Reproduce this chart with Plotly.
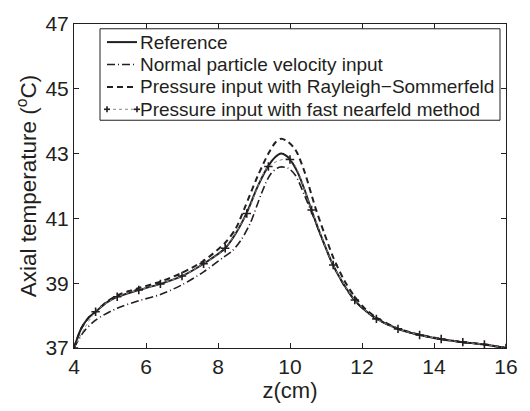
import plotly.graph_objects as go

# ---- data ----
ref_z = [4.0, 4.2, 4.4, 4.6, 4.9, 5.2, 5.5, 5.8, 6.4, 7.0, 7.6, 8.2, 8.5, 8.8, 9.1, 9.4, 9.6, 9.75,
         9.9, 10.0, 10.2, 10.4, 10.6, 10.9, 11.2, 11.5, 11.8, 12.1, 12.4, 13.0, 13.6, 14.2, 14.8, 15.4, 16.0]
ref_T = [37.0, 37.6, 37.93, 38.12, 38.4, 38.58, 38.69, 38.79, 38.98, 39.22, 39.6, 40.08, 40.55, 41.18,
         41.98, 42.62, 42.9, 43.0, 42.93, 42.82, 42.45, 41.9, 41.25, 40.35, 39.55, 38.95, 38.47, 38.15,
         37.91, 37.59, 37.40, 37.27, 37.18, 37.11, 37.0]

npv_z = [4.0, 4.27, 4.6, 5.2, 5.8, 6.4, 7.0, 7.6, 8.15, 8.4, 8.65, 8.9, 9.2, 9.45, 9.7, 9.95, 10.15,
         10.4, 10.65, 10.95, 11.2, 11.5, 11.8, 12.1, 12.4, 13.0, 13.6, 14.2, 14.8, 15.4, 16.0]
npv_T = [37.0, 37.5, 37.86, 38.23, 38.46, 38.65, 38.95, 39.35, 39.8, 40.0, 40.35, 40.86, 41.75, 42.35,
         42.58, 42.55, 42.33, 41.72, 41.05, 40.2, 39.55, 38.93, 38.46, 38.14, 37.9, 37.59, 37.40, 37.27,
         37.18, 37.11, 37.0]

rs_z = [4.0, 4.2, 4.4, 4.6, 4.9, 5.2, 5.5, 5.8, 6.4, 7.0, 7.6, 8.2, 8.5, 8.75, 9.1, 9.4, 9.6, 9.75,
        9.9, 10.15, 10.4, 10.7, 10.95, 11.2, 11.5, 11.8, 12.1, 12.4, 13.0, 13.6, 14.2, 14.8, 15.4, 16.0]
rs_T = [37.0, 37.6, 37.93, 38.12, 38.42, 38.62, 38.75, 38.85, 39.05, 39.32, 39.69, 40.25, 40.7, 41.35,
        42.3, 43.0, 43.35, 43.46, 43.4, 43.12, 42.45, 41.35, 40.55, 39.8, 39.1, 38.58, 38.2, 37.94,
        37.6, 37.41, 37.28, 37.18, 37.11, 37.0]

fn_z = [4.0, 4.6, 5.2, 5.8, 6.4, 7.0, 7.6, 8.2, 8.8, 9.4, 10.0, 10.6, 11.2, 11.8, 12.4, 13.0, 13.6,
        14.2, 14.8, 15.4, 16.0]
fn_T = [37.0, 38.12, 38.58, 38.79, 38.98, 39.22, 39.6, 40.08, 41.15, 42.6, 42.82, 41.26, 39.56, 38.48,
        37.9, 37.59, 37.40, 37.28, 37.18, 37.11, 37.0]

series_names = ["Reference", "Normal particle velocity input",
                "Pressure input with Rayleigh\u2212Sommerfeld",
                "Pressure input with fast nearfeld method"]

x_ticks = [4, 6, 8, 10, 12, 14, 16]
y_ticks = [37, 39, 41, 43, 45, 47]

INK = "#231f20"
FONT = "Liberation Sans, Arial, Helvetica, sans-serif"

styles = [
    dict(color=INK, width=2, dash="solid"),
    dict(color=INK, width=1.6, dash="8px,3px,1px,3px"),
    dict(color=INK, width=2, dash="6px,4px"),
    dict(color="#888888", width=1, dash="dot"),
]

fig = go.Figure()
for z, T, name, st in zip([ref_z, npv_z, rs_z], [ref_T, npv_T, rs_T], series_names[:3], styles[:3]):
    fig.add_trace(go.Scatter(x=z, y=T, mode="lines", name=name, showlegend=False,
                             line=dict(shape="spline", smoothing=0.8, **st)))
fig.add_trace(go.Scatter(x=fn_z, y=fn_T, mode="lines+markers", name=series_names[3], showlegend=False,
                         line=dict(shape="spline", smoothing=0.8, **styles[3]),
                         marker=dict(symbol="cross-thin", size=6, line=dict(color=INK, width=1.6))))

axis_common = dict(showline=True, linecolor=INK, linewidth=1, mirror="ticks", ticks="inside",
                   ticklen=5, tickcolor=INK, showgrid=False, zeroline=False,
                   tickfont=dict(family=FONT, size=21, color=INK))

fig.update_xaxes(range=[4, 16], tickvals=x_ticks, ticktext=[str(v) for v in x_ticks],
                 title=dict(text="z(cm)", font=dict(family=FONT, size=22, color=INK), standoff=5),
                 **axis_common)
fig.update_yaxes(range=[37, 47], tickvals=y_ticks, ticktext=[str(v) for v in y_ticks],
                 title=dict(text="Axial temperature (<sup>o</sup>C)", font=dict(family=FONT, size=22.5, color=INK),
                            standoff=2),
                 **axis_common)

# ---- legend box drawn in paper coordinates (plot area: 432 x 340 px) ----
PW, PH, L, B = 432.0, 340.0, 74.0, 358.0
def px(xp):
    return (xp - L) / PW
def py(yp):
    return (B - yp) / PH

shapes = [dict(type="rect", xref="paper", yref="paper", x0=px(100), x1=px(500), y0=py(119), y1=py(23),
               line=dict(color=INK, width=1), fillcolor="white", layer="above")]
annotations = []
row_y = [37, 60.5, 84, 107.5]
for name, st, ry in zip(series_names, styles, row_y):
    shapes.append(dict(type="line", xref="paper", yref="paper", x0=px(107), x1=px(137),
                       y0=py(ry), y1=py(ry), line=st, layer="above"))
    annotations.append(dict(xref="paper", yref="paper", x=px(138), y=py(ry), text=name, showarrow=False,
                            xanchor="left", yanchor="middle",
                            font=dict(family=FONT, size=19, color=INK)))
for mx in (107, 137):
    shapes.append(dict(type="line", xref="paper", yref="paper", xsizemode="pixel", ysizemode="pixel",
                       xanchor=px(mx), yanchor=py(row_y[3]), x0=-3, x1=3, y0=0, y1=0,
                       line=dict(color=INK, width=1.6), layer="above"))
    shapes.append(dict(type="line", xref="paper", yref="paper", xsizemode="pixel", ysizemode="pixel",
                       xanchor=px(mx), yanchor=py(row_y[3]), x0=0, x1=0, y0=-3, y1=3,
                       line=dict(color=INK, width=1.6), layer="above"))

fig.update_layout(
    width=530, height=411,
    margin=dict(l=74, r=24, t=18, b=53),
    paper_bgcolor="white", plot_bgcolor="white",
    font=dict(family=FONT, color=INK),
    showlegend=False,
    shapes=shapes,
    annotations=annotations,
)

fig.write_html("out.html")
